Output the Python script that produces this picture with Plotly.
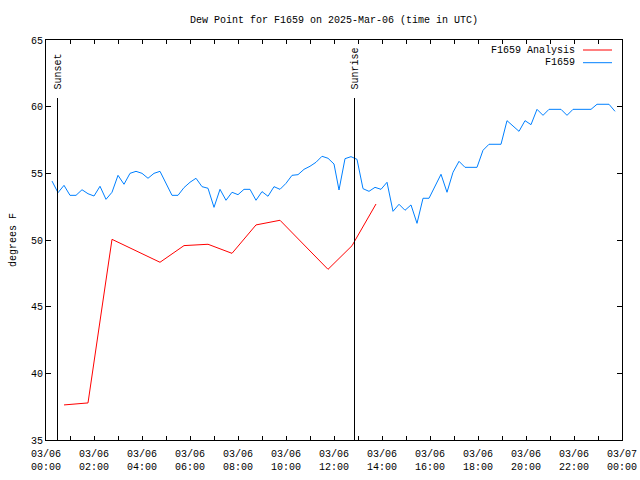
import pandas as pd
import plotly.graph_objects as go

BASE = pd.Timestamp("2025-03-06 00:00")

# Observed dew point (F1659), minutes after 00:00 UTC
obs_minutes = [15, 30, 45, 60, 75, 90, 105, 120, 135, 150, 165, 180, 195, 210, 225,
               240, 255, 270, 285, 300, 315, 330, 345, 360, 375, 390, 405, 420, 435,
               450, 465, 480, 495, 510, 525, 540, 555, 570, 585, 600, 615, 630, 645,
               660, 675, 690, 705, 720, 732.5, 747.5, 762.5, 777.5, 792.5, 807.5,
               822.5, 837.5, 852.5, 867.5, 882.5, 897.5, 912.5, 927.5, 942.5, 957.5,
               972.5, 987.5, 1002.5, 1017.5, 1032.5, 1047.5, 1062.5, 1077.5, 1092.5,
               1107.5, 1122.5, 1137.5, 1152.5, 1167.5, 1182.5, 1197.5, 1212.5, 1227.5,
               1242.5, 1257.5, 1272.5, 1287.5, 1302.5, 1317.5, 1332.5, 1347.5, 1362.5,
               1377.5, 1392.5, 1407.5, 1422.5]
obs_values = [54.42, 53.55, 54.1, 53.35, 53.35, 53.77, 53.47, 53.3, 54.03, 53.05, 53.58,
              54.85, 54.18, 55.0, 55.15, 55.0, 54.63, 55.0, 55.15, 54.25, 53.35, 53.35,
              53.93, 54.33, 54.63, 54.0, 53.88, 52.45, 53.8, 52.98, 53.58, 53.4, 53.8,
              53.8, 52.98, 53.63, 53.28, 54.0, 53.8, 54.25, 54.85, 54.9, 55.3, 55.53,
              55.83, 56.28, 56.13, 55.7, 53.75, 56.1, 56.25, 56.05, 53.85, 53.65, 53.95,
              53.8, 54.33, 52.15, 52.68, 52.23, 52.63, 51.25, 53.13, 53.13, 54.03, 54.93,
              53.58, 55.08, 55.9, 55.45, 55.45, 55.45, 56.73, 57.18, 57.18, 57.18, 58.95,
              58.55, 58.15, 58.95, 58.65, 59.8, 59.35, 59.8, 59.8, 59.8, 59.35, 59.8,
              59.8, 59.8, 59.8, 60.18, 60.18, 60.18, 59.65]

# Analysis dew point, minutes after 00:00 UTC
ana_minutes = [45, 105, 165, 225, 285, 345, 405, 465, 525, 585, 645, 705, 765, 825]
ana_values = [37.63, 37.78, 50.05, 49.2, 48.33, 49.58, 49.68, 49.0, 51.13, 51.48,
              49.64, 47.8, 49.57, 52.7]

# Sun events (minutes after 00:00 UTC)
event_names = ["Sunset", "Sunrise"]
event_minutes = [28.75, 771.25]

y_ticks = [35, 40, 45, 50, 55, 60, 65]

FONT = "Liberation Mono, DejaVu Sans Mono, monospace"
BLUE = "#0080ff"
RED = "#ff0000"


def to_time(mins):
    return [BASE + pd.Timedelta(minutes=m) for m in mins]


fig = go.Figure()
fig.add_trace(go.Scatter(x=to_time(ana_minutes), y=ana_values, mode="lines",
                         line=dict(color=RED, width=1), name="F1659 Analysis"))
fig.add_trace(go.Scatter(x=to_time(obs_minutes), y=obs_values, mode="lines",
                         line=dict(color=BLUE, width=1), name="F1659"))

# x ticks every hour, labels every 2 hours
tickvals = [BASE + pd.Timedelta(hours=h) for h in range(25)]
ticktext = []
for t in tickvals:
    if t.hour % 2 == 0:
        ticktext.append(t.strftime("%m/%d") + "<br>" + t.strftime("%H:%M"))
    else:
        ticktext.append("")

for name, m in zip(event_names, event_minutes):
    t = BASE + pd.Timedelta(minutes=m)
    fig.add_shape(type="line", xref="x", yref="paper", x0=t, x1=t, y0=0, y1=0.855,
                  line=dict(color="black", width=1))
    fig.add_annotation(x=t, xref="x", y=0.87, yref="paper", text=name, textangle=-90,
                       showarrow=False, xanchor="center", yanchor="bottom",
                       font=dict(family=FONT, size=10, color="black"))

# legend (gnuplot style: text right, sample line at right)
legend_items = [("F1659 Analysis", RED), ("F1659", BLUE)]
for k, (name, col) in enumerate(legend_items):
    ypix = 50 + 12.7 * k
    yp = (440 - ypix) / 400
    fig.add_annotation(x=(577 - 46) / 576, xref="paper", y=yp, yref="paper", text=name,
                       showarrow=False, xanchor="right", yanchor="middle",
                       font=dict(family=FONT, size=10, color="black"))
    fig.add_shape(type="line", xref="paper", yref="paper",
                  x0=(583 - 46) / 576, x1=(612 - 46) / 576, y0=yp, y1=yp,
                  line=dict(color=col, width=1))

fig.update_layout(
    width=640, height=480,
    margin=dict(l=46, r=18, t=40, b=40, autoexpand=False),
    paper_bgcolor="white", plot_bgcolor="white",
    showlegend=False,
    font=dict(family=FONT, size=10, color="black"),
    title=dict(text="Dew Point for F1659 on 2025-Mar-06 (time in UTC)",
               x=334 / 640, xanchor="center", y=1 - 19 / 480, yanchor="middle",
               font=dict(family=FONT, size=10, color="black")),
)
fig.update_xaxes(range=[BASE, BASE + pd.Timedelta(hours=24)],
                 tickmode="array", tickvals=tickvals, ticktext=ticktext,
                 ticks="inside", ticklen=4, tickcolor="black",
                 showline=True, linecolor="black", linewidth=1, mirror="ticks",
                 showgrid=False, zeroline=False, automargin=False,
                 ticklabelstandoff=4,
                 tickfont=dict(family=FONT, size=10, color="black"))
fig.update_yaxes(range=[35, 65], tickmode="array", tickvals=y_ticks,
                 ticks="inside", ticklen=5, tickcolor="black",
                 showline=True, linecolor="black", linewidth=1, mirror="ticks",
                 showgrid=False, zeroline=False, automargin=False,
                 title=dict(text="degrees F", standoff=12,
                            font=dict(family=FONT, size=10, color="black")),
                 tickfont=dict(family=FONT, size=10, color="black"))

fig.write_html("out.html")
